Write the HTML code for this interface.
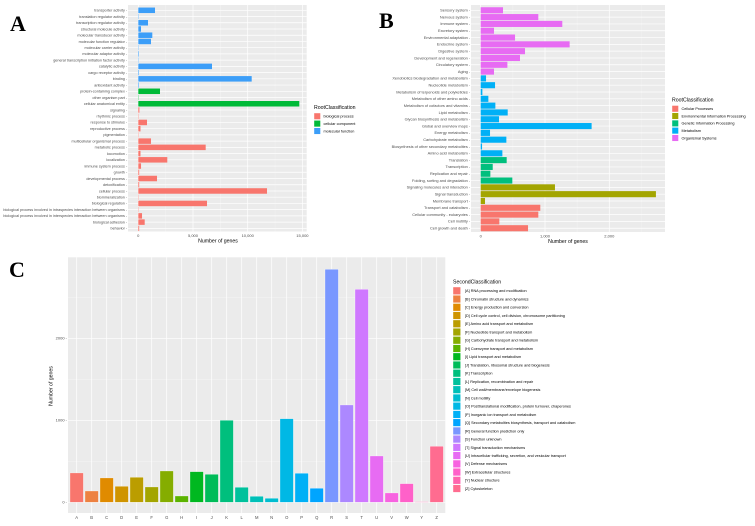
<!DOCTYPE html>
<html><head><meta charset="utf-8"><style>
html,body{margin:0;padding:0;background:#fff;}
svg{display:block;font-family:"Liberation Sans",sans-serif;}
</style></head><body>
<svg id="fig" width="755" height="526" viewBox="0 0 755 526" xmlns="http://www.w3.org/2000/svg"></svg>
<script>
// ---------- Panel A data ----------
const aCategories = ["transporter activity","translation regulator activity","transcription regulator activity","structural molecule activity","molecular transducer activity","molecular function regulator","molecular carrier activity","molecular adaptor activity","general transcription initiation factor activity","catalytic activity","cargo receptor activity","binding","antioxidant activity","protein-containing complex","other organism part","cellular anatomical entity","signaling","rhythmic process","response to stimulus","reproductive process","pigmentation","multicellular organismal process","metabolic process","locomotion","localization","immune system process","growth","developmental process","detoxification","cellular process","biomineralization","biological regulation","biological process involved in intraspecies interaction between organisms","biological process involved in interspecies interaction between organisms","biological adhesion","behavior"];
const aValues = [1527,30,887,247,1280,1160,10,50,5,6737,50,10365,50,1983,5,14717,100,30,795,200,20,1160,6160,200,2650,250,80,1710,80,11765,10,6280,10,340,585,80];
const aGroups = [2,2,2,2,2,2,2,2,2,2,2,2,2,1,1,1,0,0,0,0,0,0,0,0,0,0,0,0,0,0,0,0,0,0,0,0];
const aGroupNames = ["biological process","cellular component","molecular function"];
const aTicks = [0,5000,10000,15000];
const aTickLabels = ["0","5,000","10,000","15,000"];

// ---------- Panel B data ----------
const bCategories = ["Sensory system","Nervous system","Immune system","Excretory system","Environmental adaptation","Endocrine system","Digestive system","Development and regeneration","Circulatory system","Aging","Xenobiotics biodegradation and metabolism","Nucleotide metabolism","Metabolism of terpenoids and polyketides","Metabolism of other amino acids","Metabolism of cofactors and vitamins","Lipid metabolism","Glycan biosynthesis and metabolism","Global and overview maps","Energy metabolism","Carbohydrate metabolism","Biosynthesis of other secondary metabolites","Amino acid metabolism","Translation","Transcription","Replication and repair","Folding, sorting and degradation","Signaling molecules and interaction","Signal transduction","Membrane transport","Transport and catabolism","Cellular community - eukaryotes","Cell motility","Cell growth and death"];
const bValues = [347,896,1269,207,534,1383,689,611,415,207,83,223,26,119,228,420,285,1725,145,399,21,337,404,187,150,492,1155,2725,67,927,896,290,736];
const bGroups = [4,4,4,4,4,4,4,4,4,4,3,3,3,3,3,3,3,3,3,3,3,3,2,2,2,2,1,1,1,0,0,0,0];
const bGroupNames = ["Cellular Processes","Environmental Information Processing","Genetic Information Processing","Metabolism","Organismal Systems"];
const bTicks = [0,1000,2000];
const bTickLabels = ["0","1,000","2,000"];

// ---------- Panel C data ----------
const cCategories = ["A","B","C","D","E","F","G","H","I","J","K","L","M","N","O","P","Q","R","S","T","U","V","W","Y","Z"];
const cValues = [358,138,297,195,305,187,382,77,374,341,1000,183,73,49,1020,354,171,2841,1187,2597,565,114,228,8,683];
const cLegendLabels = ["[A] RNA processing and modification","[B] Chromatin structure and dynamics","[C] Energy production and conversion","[D] Cell cycle control, cell division, chromosome partitioning","[E] Amino acid transport and metabolism","[F] Nucleotide transport and metabolism","[G] Carbohydrate transport and metabolism","[H] Coenzyme transport and metabolism","[I] Lipid transport and metabolism","[J] Translation, ribosomal structure and biogenesis","[K] Transcription","[L] Replication, recombination and repair","[M] Cell wall/membrane/envelope biogenesis","[N] Cell motility","[O] Posttranslational modification, protein turnover, chaperones","[P] Inorganic ion transport and metabolism","[Q] Secondary metabolites biosynthesis, transport and catabolism","[R] General function prediction only","[S] Function unknown","[T] Signal transduction mechanisms","[U] Intracellular trafficking, secretion, and vesicular transport","[V] Defense mechanisms","[W] Extracellular structures","[Y] Nuclear structure","[Z] Cytoskeleton"];
const cTicks = [0,1000,2000];
const cTickLabels = ["0","1000","2000"];

const NS="http://www.w3.org/2000/svg";
const svg=document.getElementById('fig');
function mk(tag,attrs,parent){const e=document.createElementNS(NS,tag);for(const k in attrs)e.setAttribute(k,attrs[k]);(parent||svg).appendChild(e);return e;}
function txt(s,attrs,parent){const e=mk('text',attrs,parent);e.textContent=s;return e;}

function hcl(h,c,l){
  const hr=h*Math.PI/180,u=c*Math.cos(hr),v=c*Math.sin(hr);
  const Y=l>8?Math.pow((l+16)/116,3):l/903.3;
  const un=0.19784,vn=0.46832;
  const up=u/(13*l)+un,vp=v/(13*l)+vn;
  const X=Y*9*up/(4*vp),Z=Y*(12-3*up-20*vp)/(4*vp);
  let r=3.2406*X-1.5372*Y-0.4986*Z,g=-0.9689*X+1.8758*Y+0.0415*Z,b=0.0557*X-0.2040*Y+1.0570*Z;
  const gm=x=>{x=Math.max(0,Math.min(1,x));return Math.round(255*(x<=0.0031308?12.92*x:1.055*Math.pow(x,1/2.4)-0.055));};
  return 'rgb('+gm(r)+','+gm(g)+','+gm(b)+')';
}
function huePal(n){const out=[];for(let i=0;i<n;i++)out.push(hcl(15+360*i/n,100,65));return out;}

// panel letters
const la=txt('A',{x:10,y:31,'font-family':'Liberation Serif,serif','font-weight':'bold','font-size':22});


const lb=txt('B',{x:379,y:28,'font-family':'Liberation Serif,serif','font-weight':'bold','font-size':22});


const lc=txt('C',{x:9,y:277,'font-family':'Liberation Serif,serif','font-weight':'bold','font-size':22});



// ---------- horizontal bar panels ----------
function hbar(opt){
  const g=mk('g',{});
  
  
  const {x0,x1,y0,y1,zeroX,perUnit,firstY,step,barH,cats,vals,groups,cols,ticks,tickLabels}=opt;
  const xs=v=>zeroX+v*perUnit;
  const bg=mk('rect',{x:x0,y:y0,width:x1-x0,height:y1-y0,fill:'#EBEBEB'},g);
  
  
  for(let i=0;i<ticks.length;i++){
    const mv=ticks[i]+(ticks[1]-ticks[0])/2;
    if(xs(mv)<x1) mk('line',{x1:xs(mv),x2:xs(mv),y1:y0,y2:y1,stroke:'#F5F5F5','stroke-width':0.4},g);
  }
  for(let i=0;i<ticks.length;i++){
    mk('line',{x1:xs(ticks[i]),x2:xs(ticks[i]),y1:y0,y2:y1,stroke:'#fff','stroke-width':0.7},g);
    const t=txt(tickLabels[i],{x:xs(ticks[i]),y:y1+5.5,'font-size':4.0,fill:'#4D4D4D','text-anchor':'middle'},g);
    
    
  }
  for(let i=0;i<cats.length;i++){
    const cy=firstY+i*step;
    mk('line',{x1:x0,x2:x1,y1:cy,y2:cy,stroke:'#fff','stroke-width':0.7},g);
    const r=mk('rect',{x:xs(0),y:cy-barH/2,width:Math.max(0.3,vals[i]*perUnit),height:barH,fill:cols[groups[i]]},g);
    
    
    const t=txt(cats[i]+' -',{x:x0-0.8,y:cy+1.3,'font-size':opt.labelSize,fill:'#4D4D4D','text-anchor':'end'},g);
    
    
  }
  const at=txt('Number of genes',{x:opt.titleX,y:y1+11,'font-size':5.2,fill:'#000','text-anchor':'middle'},g);
  
  
  const lt=txt('RootClassification',{x:opt.legX,y:opt.legY,'font-size':5.2,fill:'#000'},g);
  
  
  for(let i=0;i<opt.legNames.length;i++){
    const ky=opt.legY+4+i*opt.legStep;
    const k=mk('rect',{x:opt.legX,y:ky,width:6.5,height:6.5,fill:cols[i],stroke:'#fff','stroke-width':0.4},g);
    
    
    const t=txt(opt.legNames[i],{x:opt.legX+9.5,y:ky+4.6,'font-size':3.8,fill:'#000'},g);
    
    
  }
}
hbar({name:'panel-a-go-chart',x0:128,x1:306.7,y0:5,y1:231.5,zeroX:138.3,perUnit:54.7/5000,firstY:10.3,step:6.23,barH:5.5,labelSize:3.75,
  cats:aCategories,vals:aValues,groups:aGroups,cols:['#F8766D','#00BA38','#3C9EF8'],ticks:aTicks,tickLabels:aTickLabels,
  titleX:218,legX:314,legY:109,legStep:7.4,legNames:aGroupNames});
hbar({name:'panel-b-kegg-chart',x0:471,x1:665,y0:5,y1:232,zeroX:480.7,perUnit:64.3/1000,firstY:10.3,step:6.81,barH:6.1,labelSize:3.9,
  cats:bCategories,vals:bValues,groups:bGroups,cols:['#F8766D','#A3A500','#00BF7D','#00B0F6','#E76BF3'],ticks:bTicks,tickLabels:bTickLabels,
  titleX:568,legX:672,legY:101.5,legStep:7.3,legNames:bGroupNames});

// ---------- Panel C ----------
(function(){
  const g=mk('g',{});
  
  
  const x0=68,x1=445.3,y0=257.3,y1=513;
  const zeroY=502.3,perUnit=0.082;
  const ys=v=>zeroY-v*perUnit;
  const xs=i=>76.7+i*15;
  const cols=huePal(cCategories.length);
  const bg=mk('rect',{x:x0,y:y0,width:x1-x0,height:y1-y0,fill:'#EBEBEB'},g);
  
  
  for(let i=0;i<cTicks.length;i++){
    const mv=cTicks[i]+500;
    mk('line',{x1:x0,x2:x1,y1:ys(mv),y2:ys(mv),stroke:'#F5F5F5','stroke-width':0.4},g);
    mk('line',{x1:x0,x2:x1,y1:ys(cTicks[i]),y2:ys(cTicks[i]),stroke:'#fff','stroke-width':0.7},g);
    const t=txt(cTickLabels[i]+' -',{x:x0-1,y:ys(cTicks[i])+1.4,'font-size':4.0,fill:'#4D4D4D','text-anchor':'end'},g);
    
    
  }
  for(let i=0;i<cCategories.length;i++){
    mk('line',{x1:xs(i),x2:xs(i),y1:y0,y2:y1,stroke:'#fff','stroke-width':0.7},g);
    const v=cValues[i];
    const r=mk('rect',{x:xs(i)-6.7,y:ys(v),width:13.4,height:Math.max(0.4,v*perUnit),fill:cols[i],stroke:'#fff','stroke-width':0.3},g);
    
    
    const t=txt(cCategories[i],{x:xs(i),y:y1+6,'font-size':4.2,fill:'#4D4D4D','text-anchor':'middle'},g);
    
    
  }
  const yt=txt('Number of genes',{x:0,y:0,'font-size':5.2,fill:'#000','text-anchor':'middle',transform:'translate(52.5,386) rotate(-90)'},g);
  
  
  const lt=txt('SecondClassification',{x:453,y:283.5,'font-size':5.2,fill:'#000'},g);
  
  
  for(let i=0;i<cLegendLabels.length;i++){
    const ky=287+i*8.24;
    const k=mk('rect',{x:453,y:ky,width:7.6,height:7.6,fill:cols[i],stroke:'#fff','stroke-width':0.4},g);
    
    
    const t=txt(cLegendLabels[i],{x:465,y:ky+5.2,'font-size':3.8,fill:'#000'},g);
    
    
  }
})();
</script>
</body></html>
